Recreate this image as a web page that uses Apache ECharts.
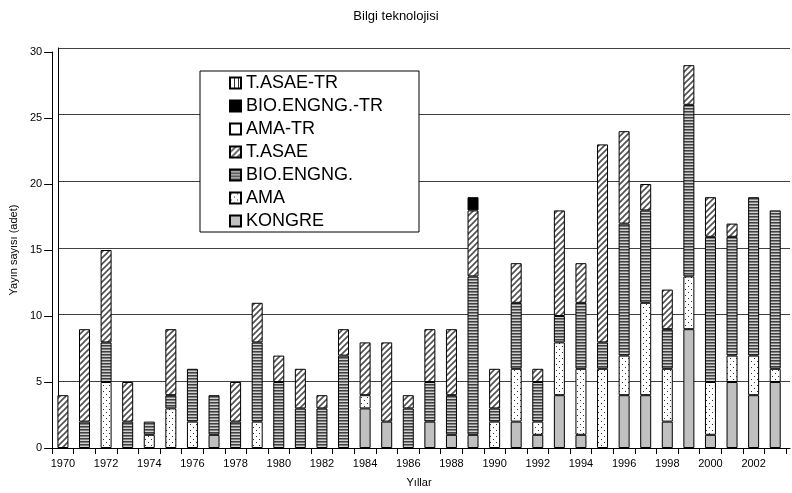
<!DOCTYPE html>
<html>
<head>
<meta charset="utf-8">
<script src="https://cdn.jsdelivr.net/npm/echarts@6/dist/echarts.min.js"></script>
<style>html,body{margin:0;padding:0;background:#fff}#c{width:792px;height:493px}</style>
</head>
<body>
<div id="c"></div>
<script>
var years = ['1970','1971','1972','1973','1974','1975','1976','1977','1978','1979','1980','1981','1982','1983','1984','1985','1986','1987','1988','1989','1990','1991','1992','1993','1994','1995','1996','1997','1998','1999','2000','2001','2002','2003'];
var kongre   = [0,0,0,0,0,0,0,1,0,0,0,0,0,0,3,2,0,2,1,1,0,2,1,4,1,0,4,4,2,9,1,5,4,5];
var ama      = [0,0,5,0,1,3,2,0,0,2,0,0,0,0,1,0,0,0,0,0,2,4,1,4,5,6,3,7,4,4,4,2,3,1];
var bio      = [0,2,3,2,1,1,4,3,2,6,5,3,3,7,0,0,3,3,3,12,1,5,3,2,5,2,10,7,3,13,11,9,12,12];
var tasae    = [4,7,7,3,0,5,0,0,3,3,2,3,1,2,4,6,1,4,5,5,3,3,1,8,3,15,7,2,3,3,3,1,0,0];
var amaTr    = [0,0,0,0,0,0,0,0,0,0,0,0,0,0,0,0,0,0,0,0,0,0,0,0,0,0,0,0,0,0,0,0,0,0];
var bioTr    = [0,0,0,0,0,0,0,0,0,0,0,0,0,0,0,0,0,0,0,1,0,0,0,0,0,0,0,0,0,0,0,0,0,0];
var tasaeTr  = [0,0,0,0,0,0,0,0,0,0,0,0,0,0,0,0,0,0,0,0,0,0,0,0,0,0,0,0,0,0,0,0,0,0];
var seriesNames = ['KONGRE','AMA','BIO.ENGNG.','T.ASAE','AMA-TR','BIO.ENGNG.-TR','T.ASAE-TR'];
var seriesData = [kongre, ama, bio, tasae, amaTr, bioTr, tasaeTr];
var yTicks = [0,5,10,15,20,25,30];

function mk(w,h,draw){var c=document.createElement('canvas');c.width=w;c.height=h;var g=c.getContext('2d');draw(g,w,h);return {image:c,repeat:'repeat'};}
var patKongre = '#c0c0c0';
var patAma = mk(6,6,function(g){g.fillStyle='#fff';g.fillRect(0,0,6,6);g.fillStyle='#333';g.fillRect(1,1,1,1);g.fillRect(4,4,1,1);});
var patBio = mk(3,3,function(g){g.fillStyle='#d0d0d0';g.fillRect(0,0,3,3);g.fillStyle='#404040';g.fillRect(0,0,3,1);g.fillStyle='#808080';g.fillRect(0,1,3,1);});
var patTasae = mk(6,6,function(g){g.fillStyle='#fff';g.fillRect(0,0,6,6);g.strokeStyle='#505050';g.lineWidth=1.6;g.beginPath();g.moveTo(-1,7);g.lineTo(7,-1);g.moveTo(-4,4);g.lineTo(4,-4);g.moveTo(2,10);g.lineTo(10,2);g.stroke();});
var patAmaTr = '#ffffff';
var patBioTr = '#000000';
var patTasaeTr = mk(4,4,function(g){g.fillStyle='#fff';g.fillRect(0,0,4,4);g.fillStyle='#333';g.fillRect(0,0,1,4);});
var fills = [patKongre, patAma, patBio, patTasae, patAmaTr, patBioTr, patTasaeTr];

var series = seriesNames.map(function(n,i){
  return {
    name:n, type:'bar', stack:'all', xAxisIndex:0, yAxisIndex:0, barWidth:11,
    itemStyle:{color:fills[i], borderColor:'#000', borderWidth:1},
    data: seriesData[i].map(function(v){return v===0?'-':v;}),
    z:5
  };
});
series.push({type:'bar', xAxisIndex:1, yAxisIndex:1, data:[], silent:true});

var font = 'Liberation Sans, Arial, sans-serif';
var chart = echarts.init(document.getElementById('c'), null, {renderer:'canvas'});
chart.setOption({
  animation:false,
  backgroundColor:'#fff',
  title:{text:'Bilgi teknolojisi', left:'center', top:5, textStyle:{fontFamily:font, fontSize:13, fontWeight:'normal', color:'#000'}},
  legend:{
    data: seriesNames.slice().reverse(),
    orient:'vertical', left:200, top:71,
    padding:[3,36,2,29],
    itemWidth:11, itemHeight:11, itemGap:5,
    icon:'rect',
    backgroundColor:'#fff', borderColor:'#000', borderWidth:1,
    textStyle:{fontFamily:font, fontSize:18, color:'#000', padding:[0,0,0,0]},
    z:20
  },
  grid:[
    {left:52, right:6, top:52, bottom:41},
    {left:58, right:2, top:48, bottom:45}
  ],
  xAxis:[
    {type:'category', gridIndex:0, data:years,
     name:'Yıllar', nameLocation:'middle', nameGap:29, nameTextStyle:{fontFamily:font, fontSize:11, color:'#000'},
     axisLine:{lineStyle:{color:'#000', width:1}},
     axisTick:{show:true, interval:0, length:6, lineStyle:{color:'#000'}},
     axisLabel:{interval:1, fontFamily:font, fontSize:11, color:'#000', margin:10},
     splitLine:{show:false}},
    {type:'category', gridIndex:1, data:years, show:true,
     axisLine:{show:true, lineStyle:{color:'#000'}}, axisTick:{show:false}, axisLabel:{show:false}, splitLine:{show:false}}
  ],
  yAxis:[
    {type:'value', gridIndex:0, min:0, max:30, interval:5,
     name:'Yayın sayısı (adet)', nameLocation:'middle', nameGap:24, nameRotate:90,
     nameTextStyle:{fontFamily:font, fontSize:11, color:'#000'},
     axisLine:{show:true, lineStyle:{color:'#000'}},
     axisTick:{show:true, length:8, lineStyle:{color:'#000'}},
     axisLabel:{fontFamily:font, fontSize:11, color:'#000', margin:10},
     splitLine:{show:false}},
    {type:'value', gridIndex:1, min:0, max:30, interval:5,
     axisLine:{show:true, lineStyle:{color:'#000'}}, axisTick:{show:false}, axisLabel:{show:false},
     splitLine:{show:true, lineStyle:{color:'#404040', width:1}}}
  ],
  series:series
});
</script>
</body>
</html>
